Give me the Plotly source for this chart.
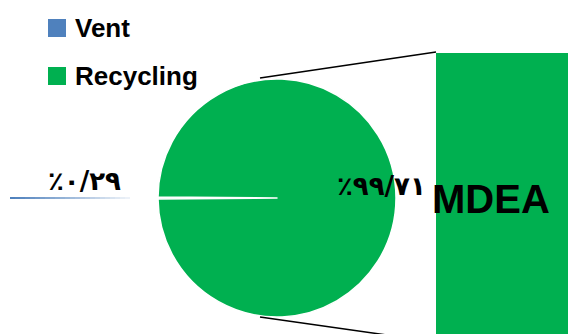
import plotly.graph_objects as go

# ---- data ----
categories = ["Vent", "Recycling"]
shares = [0.29, 99.71]
slice_colors = ["#4F81BD", "#00B050"]
bar_categories = ["MDEA"]
bar_values = [99.71]

W, H = 568, 334

def px(x):
    return x / W

def py(y):
    return 1 - y / H

def fa_pct(v):
    digits = "۰۱۲۳۴۵۶۷۸۹"
    s = f"{v:.2f}".replace(".", "/")
    s = "".join(digits[int(c)] if c.isdigit() else c for c in s)
    return "٪" + s

fig = go.Figure()

# pie
cx, cy, r = 277, 198, 119
fig.add_trace(go.Pie(
    labels=categories, values=shares,
    marker=dict(colors=slice_colors, line=dict(color="white", width=1.5)),
    textinfo="none", sort=False, direction="clockwise",
    rotation=270 - shares[0] / 100 * 360 / 2,
    domain=dict(x=[px(cx - r), px(cx + r)], y=[py(cy + r), py(cy - r)]),
    showlegend=False, hoverinfo="label+percent",
))

# bar (second-level)
fig.add_trace(go.Bar(
    x=bar_categories, y=bar_values, marker=dict(color="#00B050", line=dict(width=0)),
    width=1.0, xaxis="x", yaxis="y", showlegend=False,
))
fig.update_layout(
    xaxis=dict(domain=[px(436), 1], range=[-0.5, 0.3], visible=False, fixedrange=True),
    yaxis=dict(domain=[0, py(53)], range=[0, bar_values[0]], visible=False, fixedrange=True),
)

shapes = []
# connector lines
shapes.append(dict(type="line", xref="paper", yref="paper",
                   x0=px(260), y0=py(78), x1=px(436), y1=py(52),
                   line=dict(color="black", width=1.5)))
shapes.append(dict(type="line", xref="paper", yref="paper",
                   x0=px(260), y0=py(317), x1=px(436), y1=py(342),
                   line=dict(color="black", width=1.5)))
# leader line with smooth fading
n = 24
x_start, x_end = 10, 130
for k in range(n):
    a = x_start + (x_end - x_start) * k / n
    b = x_start + (x_end - x_start) * (k + 1) / n
    op = 1.0 - 0.9 * k / (n - 1)
    shapes.append(dict(type="line", xref="paper", yref="paper",
                       x0=px(a), y0=py(198), x1=px(b), y1=py(198),
                       line=dict(color="#4F81BD", width=2), opacity=op))
# legend squares
for i, c in enumerate(slice_colors):
    top = 19 + i * 48
    shapes.append(dict(type="rect", xref="paper", yref="paper",
                       x0=px(48), x1=px(66), y0=py(top + 18), y1=py(top),
                       fillcolor=c, line=dict(width=0)))

annotations = []
for i, name in enumerate(categories):
    annotations.append(dict(text=f"<b>{name}</b>", xref="paper", yref="paper",
                            x=px(73), y=py(28 + i * 48), xanchor="left", yanchor="middle",
                            showarrow=False,
                            font=dict(family="Liberation Sans", size=26, color="black")))
# percentage labels
annotations.append(dict(text=f"<b>{fa_pct(shares[0])}</b>", xref="paper", yref="paper",
                        x=px(84), y=py(181), xanchor="center", yanchor="middle",
                        showarrow=False,
                        font=dict(family="DejaVu Sans", size=26, color="black")))
annotations.append(dict(text=f"<b>{fa_pct(shares[1])}</b>", xref="paper", yref="paper",
                        x=px(381), y=py(186), xanchor="center", yanchor="middle",
                        showarrow=False,
                        font=dict(family="DejaVu Sans", size=26, color="black")))
# bar category label
annotations.append(dict(text=f"<b>{bar_categories[0]}</b>", xref="paper", yref="paper",
                        x=px(491), y=py(199), xanchor="center", yanchor="middle",
                        showarrow=False,
                        font=dict(family="Liberation Sans", size=40, color="black")))

fig.update_layout(
    width=W, height=H, margin=dict(l=0, r=0, t=0, b=0),
    paper_bgcolor="white", plot_bgcolor="white",
    shapes=shapes, annotations=annotations, showlegend=False,
)

fig.write_html("out.html")
